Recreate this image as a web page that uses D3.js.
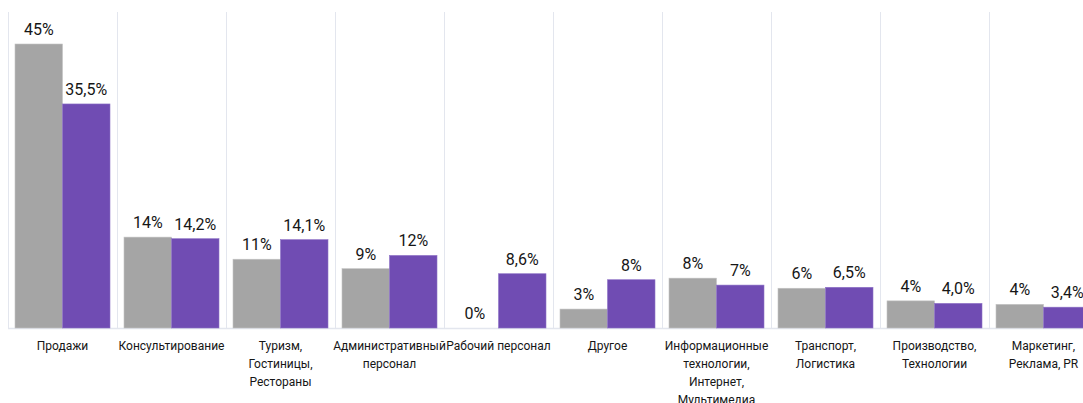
<!DOCTYPE html>
<html>
<head>
<meta charset="utf-8">
<script src="https://cdn.jsdelivr.net/npm/d3@7"></script>
<style>
  body { margin: 0; background: #fff; }
  svg { display: block; overflow: hidden; }
  text { font-family: Roboto, "Noto Sans", sans-serif; fill: #161616; }
</style>
</head>
<body>
<div id="chart"></div>
<script>
// data
var categories = [
  ["Продажи"],
  ["Консультирование"],
  ["Туризм,", "Гостиницы,", "Рестораны"],
  ["Административный", "персонал"],
  ["Рабочий персонал"],
  ["Другое"],
  ["Информационные", "технологии,", "Интернет,", "Мультимедиа"],
  ["Транспорт,", "Логистика"],
  ["Производство,", "Технологии"],
  ["Маркетинг,", "Реклама, PR"]
];
var grayValues = [45, 14.4, 10.9, 9.4, 0, 3.0, 7.9, 6.3, 4.3, 3.75];
var grayLabels = ["45%", "14%", "11%", "9%", "0%", "3%", "8%", "6%", "4%", "4%"];
var purpleValues = [35.5, 14.15, 14.0, 11.5, 8.6, 7.65, 6.8, 6.45, 3.9, 3.3];
var purpleLabels = ["35,5%", "14,2%", "14,1%", "12%", "8,6%", "8%", "7%", "6,5%", "4,0%", "3,4%"];

var svgWidth = 1083;
var svgHeight = 403;
var baseY = 328;

var svg = d3.select('#chart')
            .append('svg')
            .attr('width', svgWidth)
            .attr('height', svgHeight);

var idx = d3.range(categories.length);

// outer bands (the last one runs off the right edge, as in the original)
var xScale = d3.scaleBand()
    .domain(idx)
    .range([8, 8 + 109 * categories.length])
    .paddingInner(0)
    .paddingOuter(0);

var xInner = d3.scaleBand()
    .domain(["gray", "purple"])
    .range([7, xScale.bandwidth() - 7]);

var yScale = d3.scaleLinear()
    .domain([0, 45])
    .range([baseY, 44]);

//grid lines
svg.append('g')
    .selectAll('line')
    .data(d3.range(categories.length + 1))
    .enter()
    .append('line')
    .attr('x1', d => 8 + d * xScale.bandwidth() + 0.5)
    .attr('x2', d => 8 + d * xScale.bandwidth() + 0.5)
    .attr('y1', 12)
    .attr('y2', baseY)
    .attr('stroke', '#e3e6ee')
    .attr('stroke-width', 1);

svg.append('line')
    .attr('x1', 8)
    .attr('x2', svgWidth)
    .attr('y1', baseY + 0.5)
    .attr('y2', baseY + 0.5)
    .attr('stroke', '#e3e6ee')
    .attr('stroke-width', 1.5);

var series = [
  {key: "gray", values: grayValues, labels: grayLabels, color: "#a5a5a5", edge: "#c4c4c4"},
  {key: "purple", values: purpleValues, labels: purpleLabels, color: "#704cb3", edge: "#8e72c6"}
];

series.forEach(s => {
  var g = svg.append('g');
  g.selectAll('rect')
    .data(idx)
    .enter()
    .append('rect')
    .attr('x', i => xScale(i) + xInner(s.key))
    .attr('width', xInner.bandwidth())
    .attr('y', i => yScale(s.values[i]))
    .attr('height', i => baseY - yScale(s.values[i]))
    .attr('fill', s.color)
    .attr('stroke', s.edge)
    .attr('stroke-width', 0.6);

  g.selectAll('text')
    .data(idx)
    .enter()
    .append('text')
    .attr('x', i => xScale(i) + xInner(s.key) + xInner.bandwidth() / 2)
    .attr('y', i => yScale(s.values[i]) - 9)
    .attr('text-anchor', 'middle')
    .attr('font-size', '16px')
    .text(i => s.labels[i]);
});

// category labels
var catText = svg.append('g')
    .selectAll('text')
    .data(idx)
    .enter()
    .append('text')
    .attr('text-anchor', 'middle')
    .attr('font-size', '12px')
    .attr('x', i => xScale(i) + xScale.bandwidth() / 2)
    .attr('y', 350);

catText.selectAll('tspan')
    .data(i => categories[i].map(t => ({t: t, x: xScale(i) + xScale.bandwidth() / 2})))
    .enter()
    .append('tspan')
    .attr('x', d => d.x)
    .attr('dy', (d, j) => j === 0 ? 0 : 18)
    .text(d => d.t);
</script>
</body>
</html>
